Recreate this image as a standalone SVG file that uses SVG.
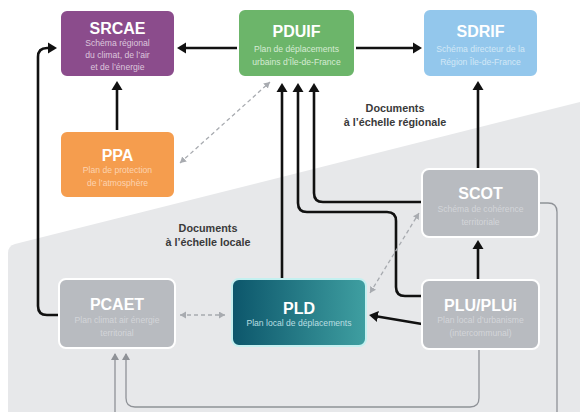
<svg xmlns="http://www.w3.org/2000/svg" width="580" height="412" viewBox="0 0 580 412">
<defs>
<style>
.box{stroke:#ffffff;stroke-width:2}
.t{font-family:"Liberation Sans",Arial,sans-serif;font-weight:bold;font-size:16px;fill:#ffffff;text-anchor:middle}
.s{font-family:"Liberation Sans",Arial,sans-serif;font-size:8.6px;text-anchor:middle}
.lab{font-family:"Liberation Sans",Arial,sans-serif;font-weight:bold;font-size:10.8px;fill:#3a3a3a;text-anchor:middle}
.blk{fill:none;stroke:#111111;stroke-width:2.6}
.dsh{fill:none;stroke:#a8abb0;stroke-width:1.3;stroke-dasharray:4 3}
.gry{fill:none;stroke:#8f9297;stroke-width:1.3}
</style>
<marker id="ab" markerUnits="userSpaceOnUse" markerWidth="12" markerHeight="12" refX="5" refY="6" orient="auto"><path d="M0,0.5 L9,6 L0,11.5 z" fill="#111111"/></marker>
<marker id="ad" markerUnits="userSpaceOnUse" markerWidth="8" markerHeight="8" refX="6" refY="3.5" orient="auto-start-reverse"><path d="M0,0 L6,3.5 L0,7 z" fill="#a8abb0"/></marker>
<marker id="ag" markerUnits="userSpaceOnUse" markerWidth="9" markerHeight="9" refX="6" refY="4" orient="auto"><path d="M0,0 L7,4 L0,8 z" fill="#8f9297"/></marker>
<linearGradient id="pldg" x1="0" y1="0" x2="1" y2="0">
<stop offset="0" stop-color="#0c566b"/>
<stop offset="1" stop-color="#3f9fa1"/>
</linearGradient>
</defs>
<rect x="0" y="0" width="580" height="412" fill="#ffffff"/>
<path d="M8,412 L8,253 Q8,246 15,244 L580,102 L580,412 Z" fill="#e7e8ea"/>

<g id="connectors">
<path class="blk" d="M238,48 H181" marker-end="url(#ab)"/>
<path class="blk" d="M355,48 H418" marker-end="url(#ab)"/>
<path class="blk" d="M117,131 V85" marker-end="url(#ab)"/>
<path class="blk" d="M59,315 H47 Q38,315 38,306 V57 Q38,48 47,48 H53" marker-end="url(#ab)"/>
<path class="blk" d="M282,278 V87" marker-end="url(#ab)"/>
<path class="blk" d="M422,296 H405 Q396,296 396,287 V221 Q396,212 387,212 H307 Q298,212 298,203 V87" marker-end="url(#ab)"/>
<path class="blk" d="M422,202 H323 Q314,202 314,193 V87" marker-end="url(#ab)"/>
<path class="blk" d="M478,169 V85" marker-end="url(#ab)"/>
<path class="blk" d="M478,280 V244" marker-end="url(#ab)"/>
<path class="blk" d="M422,324 L373,315.7" marker-end="url(#ab)"/>
<path class="dsh" d="M180,163 L270,82" marker-start="url(#ad)" marker-end="url(#ad)"/>
<path class="dsh" d="M180,315 H225" marker-start="url(#ad)" marker-end="url(#ad)"/>
<path class="dsh" d="M370,293 L419,213" marker-start="url(#ad)" marker-end="url(#ad)"/>
<path class="gry" d="M479,349 V398 Q479,407 470,407 H135 Q126,407 126,398 V354" marker-end="url(#ag)"/>
<path class="gry" d="M539,203 H548 Q557,203 557,212 V425 H115 V354" marker-end="url(#ag)"/>
</g>

<g id="srcae">
<rect class="box" x="60" y="10" width="115" height="67" rx="7" fill="#8b4c8c"/>
<text class="t" x="117.5" y="34">SRCAE</text>
<text class="s" x="117.5" y="46" fill="#dcc6dc">Schéma régional</text>
<text class="s" x="117.5" y="58" fill="#dcc6dc">du climat, de l’air</text>
<text class="s" x="117.5" y="70" fill="#dcc6dc">et de l’énergie</text>
</g>

<g id="pduif">
<rect class="box" x="238" y="9" width="117" height="68" rx="7" fill="#6cb56a"/>
<text class="t" x="296.5" y="37">PDUIF</text>
<text class="s" x="296.5" y="52" fill="#d6ebd4">Plan de déplacements</text>
<text class="s" x="296.5" y="65" fill="#d6ebd4">urbains d’Île-de-France</text>
</g>

<g id="sdrif">
<rect class="box" x="423" y="9" width="115" height="68" rx="7" fill="#93c7ec"/>
<text class="t" x="480.5" y="37">SDRIF</text>
<text class="s" x="480.5" y="52" fill="#d2e8f7">Schéma directeur de la</text>
<text class="s" x="480.5" y="65" fill="#d2e8f7">Région Île-de-France</text>
</g>

<g id="ppa">
<rect class="box" x="60" y="131" width="115" height="67" rx="7" fill="#f59d4e"/>
<text class="t" x="117.5" y="161">PPA</text>
<text class="s" x="117.5" y="173" fill="#fcd3b0">Plan de protection</text>
<text class="s" x="117.5" y="186" fill="#fcd3b0">de l’atmosphère</text>
</g>

<g id="scot">
<rect class="box" x="422" y="169" width="117" height="68" rx="7" fill="#b8bbc0"/>
<text class="t" x="480.5" y="199">SCOT</text>
<text class="s" x="480.5" y="212" fill="#d3d5d9">Schéma de cohérence</text>
<text class="s" x="480.5" y="225" fill="#d3d5d9">territoriale</text>
</g>

<g id="plu">
<rect class="box" x="422" y="280" width="117" height="69" rx="7" fill="#b8bbc0"/>
<text class="t" x="480.5" y="311">PLU/PLUi</text>
<text class="s" x="480.5" y="323" fill="#d3d5d9">Plan local d’urbanisme</text>
<text class="s" x="480.5" y="336" fill="#d3d5d9">(intercommunal)</text>
</g>

<g id="pld">
<rect x="232" y="279" width="134" height="67" rx="7" fill="url(#pldg)" stroke="#c4f0f0" stroke-width="2"/>
<text class="t" x="299" y="314">PLD</text>
<text class="s" x="299" y="326" fill="#b9dfe2">Plan local de déplacements</text>
</g>

<g id="pcaet">
<rect class="box" x="59" y="279" width="116" height="69" rx="7" fill="#b8bbc0"/>
<text class="t" x="117" y="310">PCAET</text>
<text class="s" x="117" y="323" fill="#d3d5d9">Plan climat air énergie</text>
<text class="s" x="117" y="336" fill="#d3d5d9">territorial</text>
</g>

<g id="labels">
<text class="lab" x="395" y="112">Documents</text>
<text class="lab" x="395" y="126">à l’échelle régionale</text>
<text class="lab" x="208" y="232">Documents</text>
<text class="lab" x="208" y="246">à l’échelle locale</text>
</g>
</svg>
